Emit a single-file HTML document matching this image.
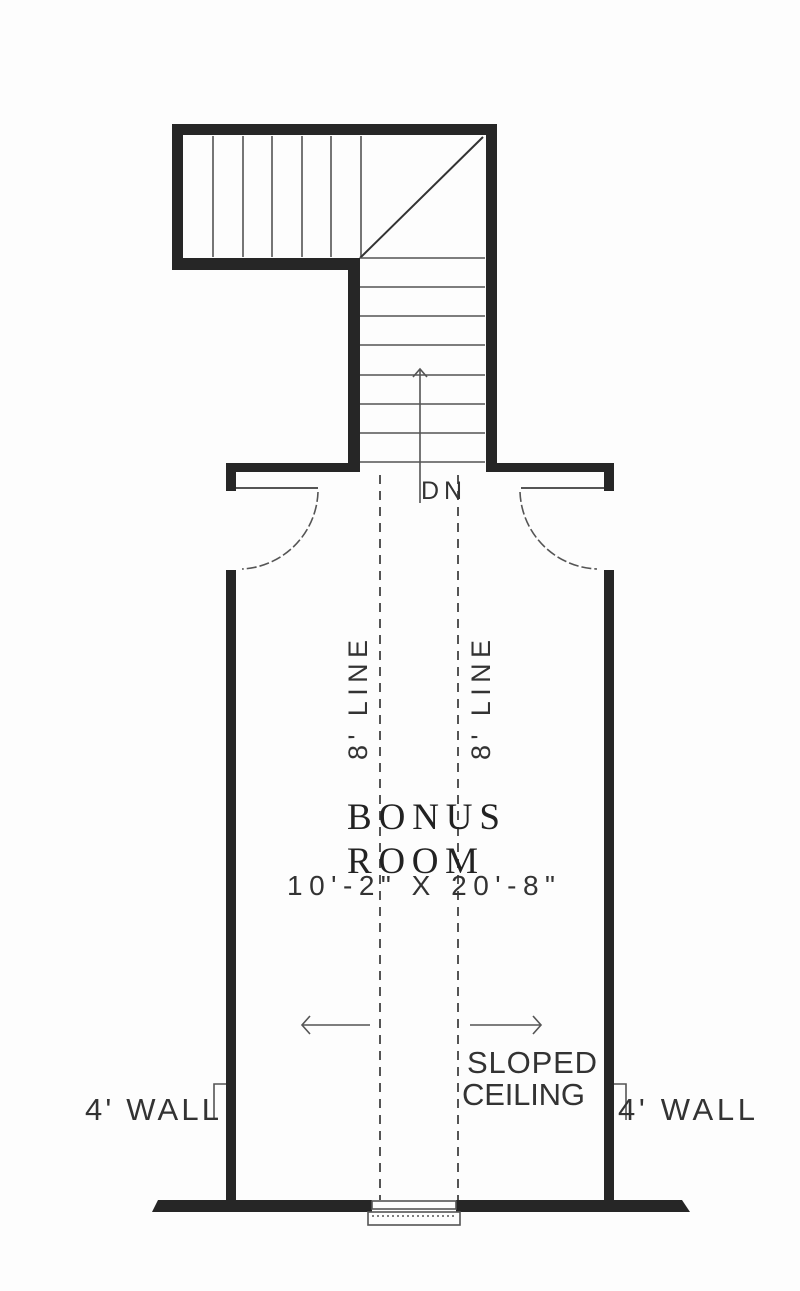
<!DOCTYPE html>
<html><head><meta charset="utf-8"><style>
html,body{margin:0;padding:0;background:#fdfdfd;}
svg{display:block;}
.s{font-family:"Liberation Sans",sans-serif;fill:#333;}
</style></head><body>
<svg width="800" height="1291" viewBox="0 0 800 1291" xmlns="http://www.w3.org/2000/svg">
<rect width="800" height="1291" fill="#fdfdfd"/>
<g fill="#262626">
<rect x="172" y="124" width="325" height="11"/>
<rect x="172" y="124" width="11" height="146"/>
<rect x="172" y="258" width="188" height="12"/>
<rect x="348" y="258" width="12" height="214"/>
<rect x="486" y="124" width="11" height="348"/>
<rect x="226" y="463" width="134" height="9"/>
<rect x="486" y="463" width="128" height="9"/>
<rect x="226" y="463" width="10" height="28"/>
<rect x="604" y="463" width="10" height="28"/>
<rect x="226" y="570" width="10" height="638"/>
<rect x="604" y="570" width="10" height="638"/>
<polygon points="158,1200 372,1200 372,1212 152,1212"/>
<polygon points="456,1200 682,1200 690,1212 456,1212"/>
</g>
<g stroke="#555" stroke-width="1.6" fill="none">
<line x1="213" y1="136" x2="213" y2="257"/><line x1="243" y1="136" x2="243" y2="257"/>
<line x1="272" y1="136" x2="272" y2="257"/><line x1="302" y1="136" x2="302" y2="257"/>
<line x1="331" y1="136" x2="331" y2="257"/><line x1="361" y1="136" x2="361" y2="257"/>
<line x1="360" y1="258" x2="483" y2="137" stroke="#333" stroke-width="2"/>
<line x1="360" y1="258" x2="485" y2="258"/><line x1="360" y1="287" x2="485" y2="287"/>
<line x1="360" y1="316" x2="485" y2="316"/><line x1="360" y1="345" x2="485" y2="345"/>
<line x1="360" y1="375" x2="485" y2="375"/><line x1="360" y1="404" x2="485" y2="404"/>
<line x1="360" y1="433" x2="485" y2="433"/><line x1="360" y1="462" x2="485" y2="462"/>
<line x1="420" y1="503" x2="420" y2="370"/>
<polyline points="413,377 420,369 427,377"/>
<line x1="236" y1="488" x2="318" y2="488" stroke-width="2"/>
<line x1="521" y1="488" x2="604" y2="488" stroke-width="2"/>
<path d="M318,492 A80,80 0 0 1 242,569" stroke-dasharray="10,3"/>
<path d="M520,492 A80,80 0 0 0 597,569" stroke-dasharray="10,3"/>
<line x1="380" y1="475" x2="380" y2="1200" stroke-dasharray="9,7" stroke-width="2"/>
<line x1="458" y1="475" x2="458" y2="1200" stroke-dasharray="9,7" stroke-width="2"/>
<line x1="303" y1="1025" x2="370" y2="1025"/>
<path d="M310,1016 L302,1025 L310,1034"/>
<line x1="470" y1="1025" x2="540" y2="1025"/>
<path d="M533,1016 L541,1025 L533,1034"/>
<polyline points="214,1120 214,1084 226,1084"/>
<polyline points="626,1120 626,1084 614,1084"/>
<rect x="372" y="1201" width="84" height="8"/>
<rect x="368" y="1212" width="92" height="13"/>
<line x1="372" y1="1216" x2="456" y2="1216" stroke-dasharray="2,3"/>
</g>
<text x="421" y="499" class="s" font-size="25" textLength="41" lengthAdjust="spacing">DN</text>
<text class="s" font-size="27" transform="translate(367,760) rotate(-90)" textLength="120" lengthAdjust="spacing">8' LINE</text>
<text class="s" font-size="27" transform="translate(490,760) rotate(-90)" textLength="120" lengthAdjust="spacing">8' LINE</text>
<text x="347" y="829" font-family="Liberation Serif,serif" font-size="37" fill="#222" textLength="153" lengthAdjust="spacing">BONUS</text>
<text x="347" y="873" font-family="Liberation Serif,serif" font-size="37" fill="#222" textLength="131" lengthAdjust="spacing">ROOM</text>
<text x="287" y="895" class="s" font-size="28" fill="#222" textLength="268" lengthAdjust="spacing">10'-2" X 20'-8"</text>
<text x="467" y="1073" class="s" font-size="31" textLength="130" lengthAdjust="spacing">SLOPED</text>
<text x="462" y="1105" class="s" font-size="31" textLength="123" lengthAdjust="spacing">CEILING</text>
<text x="85" y="1120" class="s" font-size="31" textLength="134" lengthAdjust="spacing">4' WALL</text>
<text x="618" y="1120" class="s" font-size="31" textLength="137" lengthAdjust="spacing">4' WALL</text>
</svg>
</body></html>
